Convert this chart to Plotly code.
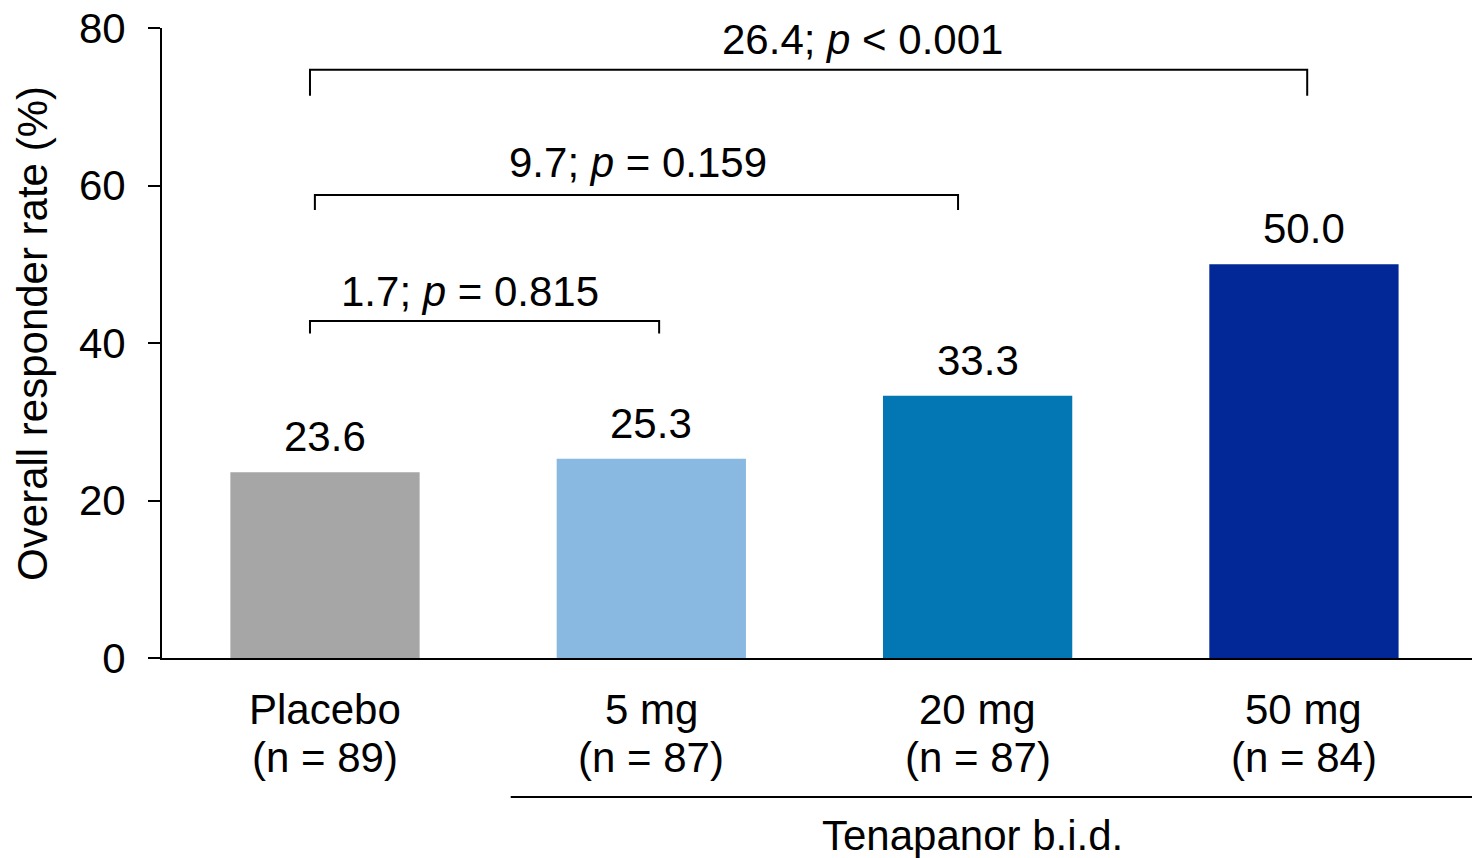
import plotly.graph_objects as go

groups = ["Placebo", "5 mg", "20 mg", "50 mg"]
group_n = ["(n = 89)", "(n = 87)", "(n = 87)", "(n = 84)"]
rates = [23.6, 25.3, 33.3, 50.0]
colors = ["#A6A6A6", "#89B9E0", "#0377B4", "#012896"]
comparisons = ["1.7; <i>p</i> = 0.815", "9.7; <i>p</i> = 0.159", "26.4; <i>p</i> < 0.001"]
y_ticks = [0, 20, 40, 60, 80]

FONT = "Arial, Liberation Sans, sans-serif"
FS = 42
xpos = list(range(len(groups)))

fig = go.Figure()
fig.add_trace(go.Bar(x=xpos, y=rates, marker=dict(color=colors, line=dict(width=0)),
                     width=0.58, hoverinfo="skip"))

for x, v in zip(xpos, rates):
    fig.add_annotation(x=x, y=v, text=f"{v:.1f}", showarrow=False, yanchor="bottom",
                       yshift=10, font=dict(size=FS, family=FONT, color="black"))

# category labels (two lines)
for x, g, n in zip(xpos, groups, group_n):
    fig.add_annotation(x=x, xref="x", yref="paper", y=-0.081, text=g, showarrow=False,
                       yanchor="middle", font=dict(size=FS, family=FONT, color="black"))
    fig.add_annotation(x=x, xref="x", yref="paper", y=-0.1587, text=n, showarrow=False,
                       yanchor="middle", font=dict(size=FS, family=FONT, color="black"))

# brackets: (left, right, top, tick bottom, label x, label y)
brackets = [(-0.046, 1.024, 42.8, 41.2, 0.444, 46.6),
            (-0.031, 1.94, 58.8, 56.9, 0.959, 62.9),
            (-0.046, 3.01, 74.7, 71.4, 1.646, 78.5)]
for (x0, x1, yt, yb, lx, ly), txt in zip(brackets, comparisons):
    fig.add_shape(type="path", xref="x", yref="y",
                  path=f"M {x0},{yb} L {x0},{yt} L {x1},{yt} L {x1},{yb}",
                  line=dict(color="black", width=2))
    fig.add_annotation(x=lx, y=ly, text=txt, showarrow=False, yanchor="middle",
                       font=dict(size=FS, family=FONT, color="black"))

# Tenapanor group line and label
fig.add_shape(type="line", xref="paper", yref="paper", x0=0.2662, x1=1.0, y0=-0.2206, y1=-0.2206,
              line=dict(color="black", width=2))
fig.add_annotation(xref="paper", yref="paper", x=0.619, y=-0.281, text="Tenapanor b.i.d.",
                   showarrow=False, yanchor="middle", font=dict(size=FS, family=FONT, color="black"))

# y-axis title
fig.add_annotation(xref="paper", yref="paper", x=-0.0985, y=0.516, text="Overall responder rate (%)",
                   textangle=-90, showarrow=False, xanchor="center", yanchor="middle",
                   font=dict(size=FS, family=FONT, color="black"))

fig.update_layout(
    width=1472, height=858,
    margin=dict(l=162, r=0, t=28, b=200),
    plot_bgcolor="white", paper_bgcolor="white",
    showlegend=False,
    font=dict(family=FONT, size=FS, color="black"),
)
fig.update_xaxes(range=[-0.4995, 3.515], tickvals=xpos, showticklabels=False,
                 showline=True, linecolor="black", linewidth=2, ticks="", showgrid=False,
                 zeroline=False)
fig.update_yaxes(range=[0, 80], tickvals=y_ticks, showline=True, linecolor="black", linewidth=2,
                 ticks="outside", ticklen=12, tickwidth=2, tickcolor="black", showgrid=False,
                 zeroline=False, ticklabelstandoff=14, ticklabeloverflow="allow",
                 tickfont=dict(size=FS, family=FONT))

fig.write_html("out.html", config={"displayModeBar": False})

with open("out.html", encoding="utf-8") as f:
    html = f.read()
html = html.replace("<body>", '<body style="margin:0;padding:0;overflow:hidden">', 1)
with open("out.html", "w", encoding="utf-8") as f:
    f.write(html)
